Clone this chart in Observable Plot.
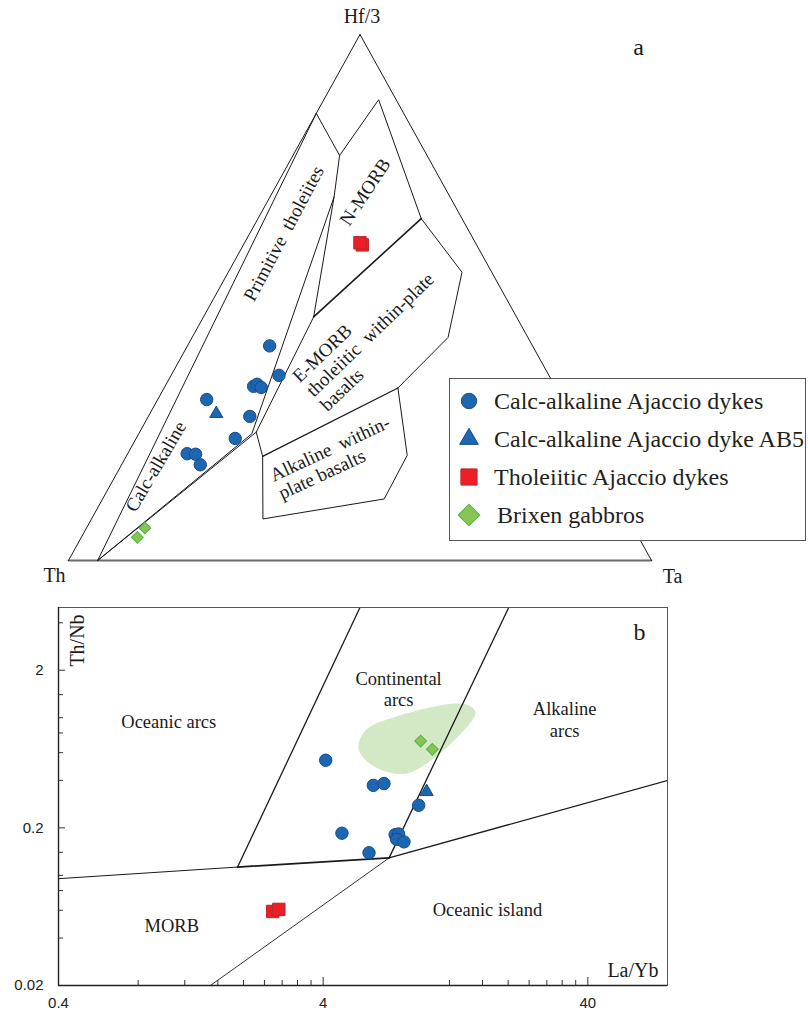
<!DOCTYPE html>
<html>
<head>
<meta charset="utf-8">
<script src="https://cdn.jsdelivr.net/npm/d3@7"></script>
<script src="https://cdn.jsdelivr.net/npm/@observablehq/plot@0.6"></script>
<style>
html,body{margin:0;padding:0;background:#fff;}
#wrap{position:relative;width:808px;height:1012px;overflow:hidden;background:#fff;}
#pa{position:absolute;left:0;top:0;}
#pb{position:absolute;left:0;top:590px;}
#legend{position:absolute;left:449px;top:378px;width:357px;height:163px;border:1px solid #555;background:#fff;
  font-family:"Liberation Serif","Times New Roman",serif;font-size:24px;color:#231f20;box-sizing:border-box;}
#legend .row{position:absolute;left:0;height:38px;line-height:38px;white-space:nowrap;}
#legend svg{position:absolute;left:0;top:0;}
#legend .lab{position:absolute;left:44px;top:0;}
</style>
</head>
<body>
<div id="wrap"><div id="pa"></div><div id="pb"></div><div id="legend"></div></div>
<script>
// ---------------- colours ----------------
const BLUE = "#1b67b2", BLUE_S = "#1b4a85";
const RED = "#ec1f26", RED_S = "#b9282d";
const GREEN = "#88c353", GREEN_S = "#4cb748";
const FIELD = "#d3e8c4";
const INK = "#1a1a1a";

// ---------------- panel a : ternary Th – Hf/3 – Ta, points are [Th, Hf/3, Ta] ----------------
const calcAlkA = [
  [0.451,0.408,0.141],[0.463,0.352,0.185],[0.517,0.331,0.152],[0.509,0.335,0.156],
  [0.505,0.329,0.166],[0.610,0.306,0.084],[0.552,0.274,0.174],[0.598,0.232,0.170],
  [0.695,0.203,0.102],[0.681,0.202,0.117],[0.683,0.182,0.135]
];
const ab5A = [[0.607,0.279,0.114]];
const tholA = [[0.196,0.600,0.204],[0.198,0.604,0.198]];
const brixenA = [[0.838,0.062,0.100],[0.860,0.044,0.096]];

// field boundaries (Wood 1980)
const edgeLeft  = [[1,0,0],[0,1,0]];
const edgeRight = [[0,1,0],[0,0,1]];
const edgeBase  = [[1,0,0],[0,0,1]];
const fieldDLeft = [[0.150,0.850,0.000],[0.950,0.000,0.050]];
const fieldDTop  = [[0.150,0.850,0.000],[0.150,0.770,0.080]];
const nMorbOuter = [[0.150,0.770,0.080],[0.030,0.876,0.094],[0.070,0.650,0.280]];
const fieldDRight = [[0.150,0.770,0.080],[0.199,0.691,0.110],[0.348,0.463,0.189],[0.556,0.244,0.200],[0.950,0.000,0.050]];
const fieldDStep = [[0.556,0.244,0.200],[0.568,0.198,0.234]];
const calcAlkDivide = [[0.199,0.691,0.110],[0.565,0.241,0.194],[0.950,0.000,0.050]];
const nMorbEMorb = [[0.070,0.650,0.280],[0.348,0.463,0.189]];
const eMorbRight = [[0.070,0.650,0.280],[0.051,0.548,0.401],[0.137,0.424,0.439],[0.271,0.328,0.401]];
const eMorbAlk = [[0.271,0.328,0.401],[0.568,0.198,0.234]];
const alkBox = [[0.568,0.198,0.234],[0.626,0.079,0.294],[0.400,0.117,0.483],[0.319,0.200,0.481],[0.271,0.328,0.401]];

// field labels
const fieldLabelsA = [
  {text:"Primitive\u00a0 tholeiites", at:[0.320,0.622,0.058], rotate:-62, anchor:"middle"},
  {text:"N-MORB", at:[0.141,0.701,0.158], rotate:-56.5, anchor:"middle"},
  {text:"E-MORB\ntholeiitic\u00a0 within-plate\nbasalts", at:[0.428,0.318,0.254], rotate:-44, anchor:"start"},
  {text:"Alkaline\u00a0 within-\nplate basalts", at:[0.573,0.1435,0.283], rotate:-25, anchor:"start"},
  {text:"Calc-alkaline", at:[0.761,0.179,0.060], rotate:-59.5, anchor:"middle"}
];
const vertexLabels = [
  {text:"Hf/3", at:[0,1,0], dx:2, dy:-18},
  {text:"Th", at:[1,0,0], dx:-14, dy:15},
  {text:"Ta", at:[0,0,1], dx:21, dy:16.5}
];

// ---------------- panel b : Th/Nb vs La/Yb, points are [La/Yb, Th/Nb] ----------------
const calcAlkB = [
  [4.09,0.537],[6.19,0.372],[6.79,0.382],[9.18,0.278],[4.71,0.185],
  [7.48,0.181],[7.71,0.183],[7.58,0.169],[8.08,0.163],[5.96,0.139]
];
const ab5B = [[9.84,0.339]];
const tholB = [[2.58,0.0590],[2.72,0.0608]];
const brixenB = [[9.34,0.711],[10.34,0.630]];
const brixenField = [
  [5.46,0.701],[5.88,0.853],[7.85,1.036],[12.48,1.229],[14.21,1.199],[15.06,1.087],
  [14.63,0.963],[11.78,0.652],[9.61,0.499],[8.32,0.442],[6.99,0.452],[5.88,0.523],[5.46,0.621]
];
const morbArcWest = [[0.4,0.0952],[1.90,0.1128]];
const morbArcEast = [[1.90,0.1128],[7.10,0.129]];
const contArcWest = [[1.90,0.1128],[5.51,5]];
const contArcEast = [[7.10,0.129],[20.1,5]];
const oibMorb = [[7.10,0.129],[1.50,0.02]];
const oibArc = [[7.10,0.129],[80,0.40]];
const fieldLabelsB = [
  {text:"Oceanic arcs", at:[1.044,0.952]},
  {text:"MORB", at:[1.072,0.0487]},
  {text:"Continental\narcs", at:[7.71,1.53]},
  {text:"Alkaline\narcs", at:[32.7,0.983]},
  {text:"Oceanic island", at:[16.7,0.0607]}
];
const xTickLabels = [0.4, 4, 40];
const yTickLabels = [0.02, 0.2, 2];
const xMinorTicks = [0.8,1.2,1.6,2,2.4,2.8,3.2,3.6,12,16,20,24,28,32,36];
const xMajorTicks = [4, 40];
const yMinorTicks = [0.04,0.06,0.08,0.1,0.14,0.4,0.6,0.8,1,1.4,4];
const yMajorTicks = [0.2, 2];

const legendLabels = ["Calc-alkaline Ajaccio dykes","Calc-alkaline Ajaccio dyke AB5","Tholeiitic Ajaccio dykes","Brixen gabbros"];

// ---------------- panel a ----------------
const TX = p => p[2] + p[1] / 2;
const TY = p => p[1];
const SERIF = "Liberation Serif";
const tline = (pts, w = 1, c = INK) => Plot.line(pts, {x: TX, y: TY, stroke: c, strokeWidth: w, strokeLinejoin: "miter"});

const marksA = [
  tline(edgeBase, 1.8, "#6a6a6a"),
  tline(edgeLeft), tline(edgeRight),
  tline(fieldDLeft), tline(fieldDTop), tline(nMorbOuter),
  tline(fieldDRight), tline(fieldDStep), tline(calcAlkDivide),
  tline(nMorbEMorb, 1.6), tline(eMorbRight), tline(eMorbAlk, 1.3), tline(alkBox)
];
for (const l of fieldLabelsA) {
  marksA.push(Plot.text([l], {x: d => TX(d.at), y: d => TY(d.at), text: d => d.text, rotate: l.rotate,
    textAnchor: l.anchor, lineHeight: 1.05, fontSize: 19, fontFamily: SERIF, fill: INK}));
}
for (const l of vertexLabels) {
  marksA.push(Plot.text([l], {x: d => TX(d.at), y: d => TY(d.at), text: d => d.text, dx: l.dx, dy: l.dy,
    fontSize: 20, fontFamily: SERIF, fill: INK}));
}
marksA.push(Plot.text(["a"], {frameAnchor: "top-right", dx: -13, dy: 13, textAnchor: "middle", lineAnchor: "middle",
  fontSize: 24, fontFamily: SERIF, fill: INK}));
marksA.push(
  Plot.dot(brixenA, {x: TX, y: TY, symbol: "square", rotate: 45, r: 4.7, fill: GREEN, stroke: GREEN_S, strokeWidth: 1}),
  Plot.dot(calcAlkA, {x: TX, y: TY, symbol: "circle", r: 6.2, fill: BLUE, stroke: BLUE_S, strokeWidth: 1}),
  Plot.dot(ab5A, {x: TX, y: TY, symbol: "triangle", r: 4.9, fill: BLUE, stroke: BLUE_S, strokeWidth: 1}),
  Plot.dot(tholA, {x: TX, y: TY, symbol: "square", r: 7.0, fill: RED, stroke: RED_S, strokeWidth: 1})
);

const chartA = Plot.plot({
  width: 808, height: 590,
  marginTop: 34, marginBottom: 30, marginLeft: 68, marginRight: 157,
  x: {domain: [0, 1], axis: null},
  y: {domain: [0, 1], axis: null},
  style: {background: "transparent", fontFamily: SERIF, overflow: "visible"},
  marks: marksA
});
document.getElementById("pa").append(chartA);

// ---------------- panel b ----------------
const BX = d => d[0], BY = d => d[1];
const SANS = "Liberation Sans";
const bline = (pts, w = 1.1, c = INK) => Plot.line(pts, {x: BX, y: BY, stroke: c, strokeWidth: w, clip: true});
const FRAME_W = 808 - 58 - 141, FRAME_H = 422 - 17 - 27;

const marksB = [
  Plot.line(brixenField, {x: BX, y: BY, fill: FIELD, stroke: "none", curve: "catmull-rom-closed"}),
  bline(morbArcWest, 1), bline(morbArcEast, 1.8), bline(contArcWest, 1.3), bline(contArcEast, 1.3),
  bline(oibMorb, 0.9), bline(oibArc, 1.3),
  Plot.frame({stroke: "#555", strokeWidth: 1}),
  Plot.ruleX([0.4], {stroke: "#222", strokeWidth: 1.4}),
  Plot.ruleY([0.02], {stroke: "#222", strokeWidth: 1.4}),
  Plot.tickX(xMinorTicks, {x: d => d, stroke: "#333", insetTop: FRAME_H - 5}),
  Plot.tickX(xMajorTicks, {x: d => d, stroke: "#333", insetTop: FRAME_H - 8}),
  Plot.tickY(yMinorTicks, {y: d => d, stroke: "#333", insetRight: FRAME_W - 5}),
  Plot.tickY(yMajorTicks, {y: d => d, stroke: "#333", insetRight: FRAME_W - 7}),
  Plot.text(xTickLabels, {x: d => d, frameAnchor: "bottom", dy: 18, lineAnchor: "middle", textAnchor: "middle",
    text: d => String(d), fontSize: 15, fontFamily: SANS, fill: "#222"}),
  Plot.text(yTickLabels, {y: d => d, frameAnchor: "left", dx: -15, textAnchor: "end", lineAnchor: "middle",
    text: d => String(d), fontSize: 15, fontFamily: SANS, fill: "#222"}),
  Plot.text(["Th/Nb"], {frameAnchor: "top-left", dx: 19, dy: 33, rotate: -90, textAnchor: "middle", lineAnchor: "middle",
    fontSize: 20, fontFamily: SERIF, fill: INK}),
  Plot.text(["La/Yb"], {frameAnchor: "bottom-right", dx: -9, dy: -15, textAnchor: "end", lineAnchor: "middle",
    fontSize: 20, fontFamily: SERIF, fill: INK}),
  Plot.text(["b"], {frameAnchor: "top-right", dx: -28, dy: 25, textAnchor: "middle", lineAnchor: "middle",
    fontSize: 24, fontFamily: SERIF, fill: INK}),
  Plot.text(fieldLabelsB, {x: d => d.at[0], y: d => d.at[1], text: d => d.text, lineHeight: 1.17, fontSize: 18.5, fontFamily: SERIF, fill: INK}),
  Plot.dot(brixenB, {x: BX, y: BY, symbol: "square", rotate: 45, r: 4.7, fill: GREEN, stroke: GREEN_S, strokeWidth: 1}),
  Plot.dot(calcAlkB, {x: BX, y: BY, symbol: "circle", r: 6.2, fill: BLUE, stroke: BLUE_S, strokeWidth: 1}),
  Plot.dot(ab5B, {x: BX, y: BY, symbol: "triangle", r: 4.9, fill: BLUE, stroke: BLUE_S, strokeWidth: 1}),
  Plot.dot(tholB, {x: BX, y: BY, symbol: "square", r: 7.0, fill: RED, stroke: RED_S, strokeWidth: 1})
];

const chartB = Plot.plot({
  width: 808, height: 422,
  marginTop: 17, marginBottom: 27, marginLeft: 58, marginRight: 141,
  x: {type: "log", domain: [0.4, 80], axis: null},
  y: {type: "log", domain: [0.02, 5], axis: null},
  style: {background: "transparent", fontFamily: SANS, overflow: "visible"},
  marks: marksB
});
document.getElementById("pb").append(chartB);

// ---------------- legend ----------------
const legendSymbols = [
  {type: d3.symbolCircle, size: 185, fill: BLUE, stroke: BLUE_S, rotate: 0},
  {type: d3.symbolTriangle, size: 150, fill: BLUE, stroke: BLUE_S, rotate: 0},
  {type: d3.symbolSquare, size: 262, fill: RED, stroke: RED_S, rotate: 0},
  {type: d3.symbolSquare, size: 235, fill: GREEN, stroke: GREEN_S, rotate: 45}
];
const legend = document.getElementById("legend");
legendLabels.forEach((lab, i) => {
  const row = document.createElement("div");
  row.className = "row";
  row.style.top = (3 + i * 38) + "px";
  row.style.width = "355px";
  const s = legendSymbols[i];
  const path = d3.symbol(s.type, s.size)();
  row.innerHTML = `<svg width="40" height="38"><path d="${path}" transform="translate(19,19) rotate(${s.rotate})" fill="${s.fill}" stroke="${s.stroke}" stroke-width="1"/></svg><span class="lab" style="left:${i === 3 ? 47 : 44}px">${lab}</span>`;
  legend.append(row);
});
</script>
</body>
</html>
